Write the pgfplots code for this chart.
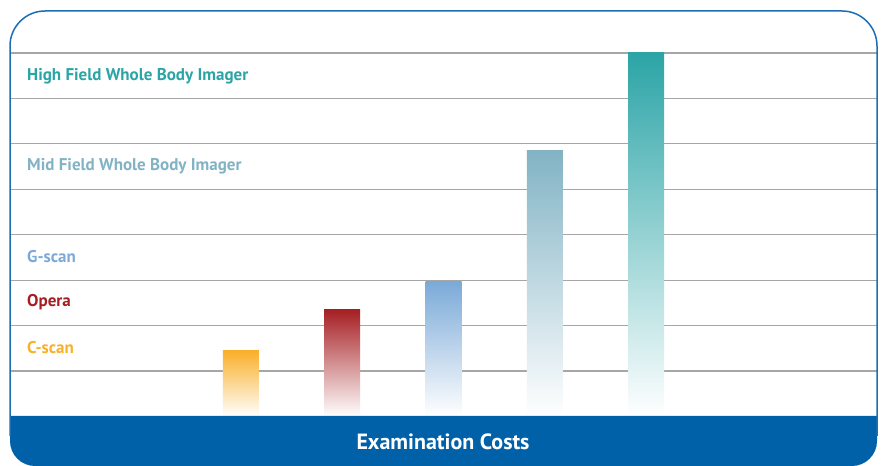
\documentclass[border=0pt]{standalone}
\usepackage{pgfplots}
\pgfplotsset{compat=1.18}
\usepackage{fontspec}
\setmainfont{PT Sans}
\definecolor{cHigh}{HTML}{2BA4A6}
\definecolor{cMid}{HTML}{82B3C4}
\definecolor{cG}{HTML}{7BAAD8}
\definecolor{cOpera}{HTML}{A51E22}
\definecolor{cC}{HTML}{F9B02B}
\definecolor{band}{HTML}{0061A8}
\definecolor{border}{HTML}{1F6DB5}
\begin{document}
\begin{tikzpicture}[x=1bp,y=1bp]
\useasboundingbox (0,0) rectangle (881,466);
\fill[white] (0,0) rectangle (881,466);
\begin{axis}[
  at={(10bp,49.6bp)}, anchor=south west,
  scale only axis, width=867bp, height=363.4bp,
  xmin=-2.28, xmax=6.28, ymin=0, ymax=8,
  axis line style={draw=none},
  xtick=\empty, ytick={1,2,3,4,5,6,7,8}, yticklabels={},
  major tick length=0pt,
  ymajorgrids, grid style={color=black!35, line width=1.2bp},
  clip=false,
  ybar, bar width=36bp, bar shift=0pt,
]
\addplot[draw=none, top color=cC, bottom color=white] coordinates {(0,1.44)};
\addplot[draw=none, top color=cOpera, bottom color=white] coordinates {(1,2.36)};
\addplot[draw=none, top color=cG, bottom color=white] coordinates {(2,2.96)};
\addplot[draw=none, top color=cMid, bottom color=white] coordinates {(3,5.86)};
\addplot[draw=none, top color=cHigh, bottom color=white] coordinates {(4,8.02)};
\end{axis}
\fill[band] (10,50) -- (10,25) arc[start angle=180,end angle=270,radius=25] -- (852,0) arc[start angle=270,end angle=360,radius=25] -- (877,50) -- cycle;
\draw[border, line width=1.5bp] (10,30) -- (10,420) arc[start angle=180,end angle=90,radius=35] -- (842,455) arc[start angle=90,end angle=0,radius=35] -- (877,30);
\begin{scope}[every node/.style={anchor=west, inner sep=0pt, font=\fontsize{17bp}{20bp}\selectfont\bfseries}]
\node[text=cHigh] at (27,466-76) {High Field Whole Body Imager};
\node[text=cMid] at (27,466-166) {Mid Field Whole Body Imager};
\node[text=cG] at (27,466-257) {G-scan};
\node[text=cOpera] at (27,466-302) {Opera};
\node[text=cC] at (27,466-348) {C-scan};
\end{scope}
\node[text=white, inner sep=0pt, font=\fontsize{22bp}{26bp}\selectfont\bfseries] at (443,466-442) {Examination Costs};
\end{tikzpicture}
\end{document}
